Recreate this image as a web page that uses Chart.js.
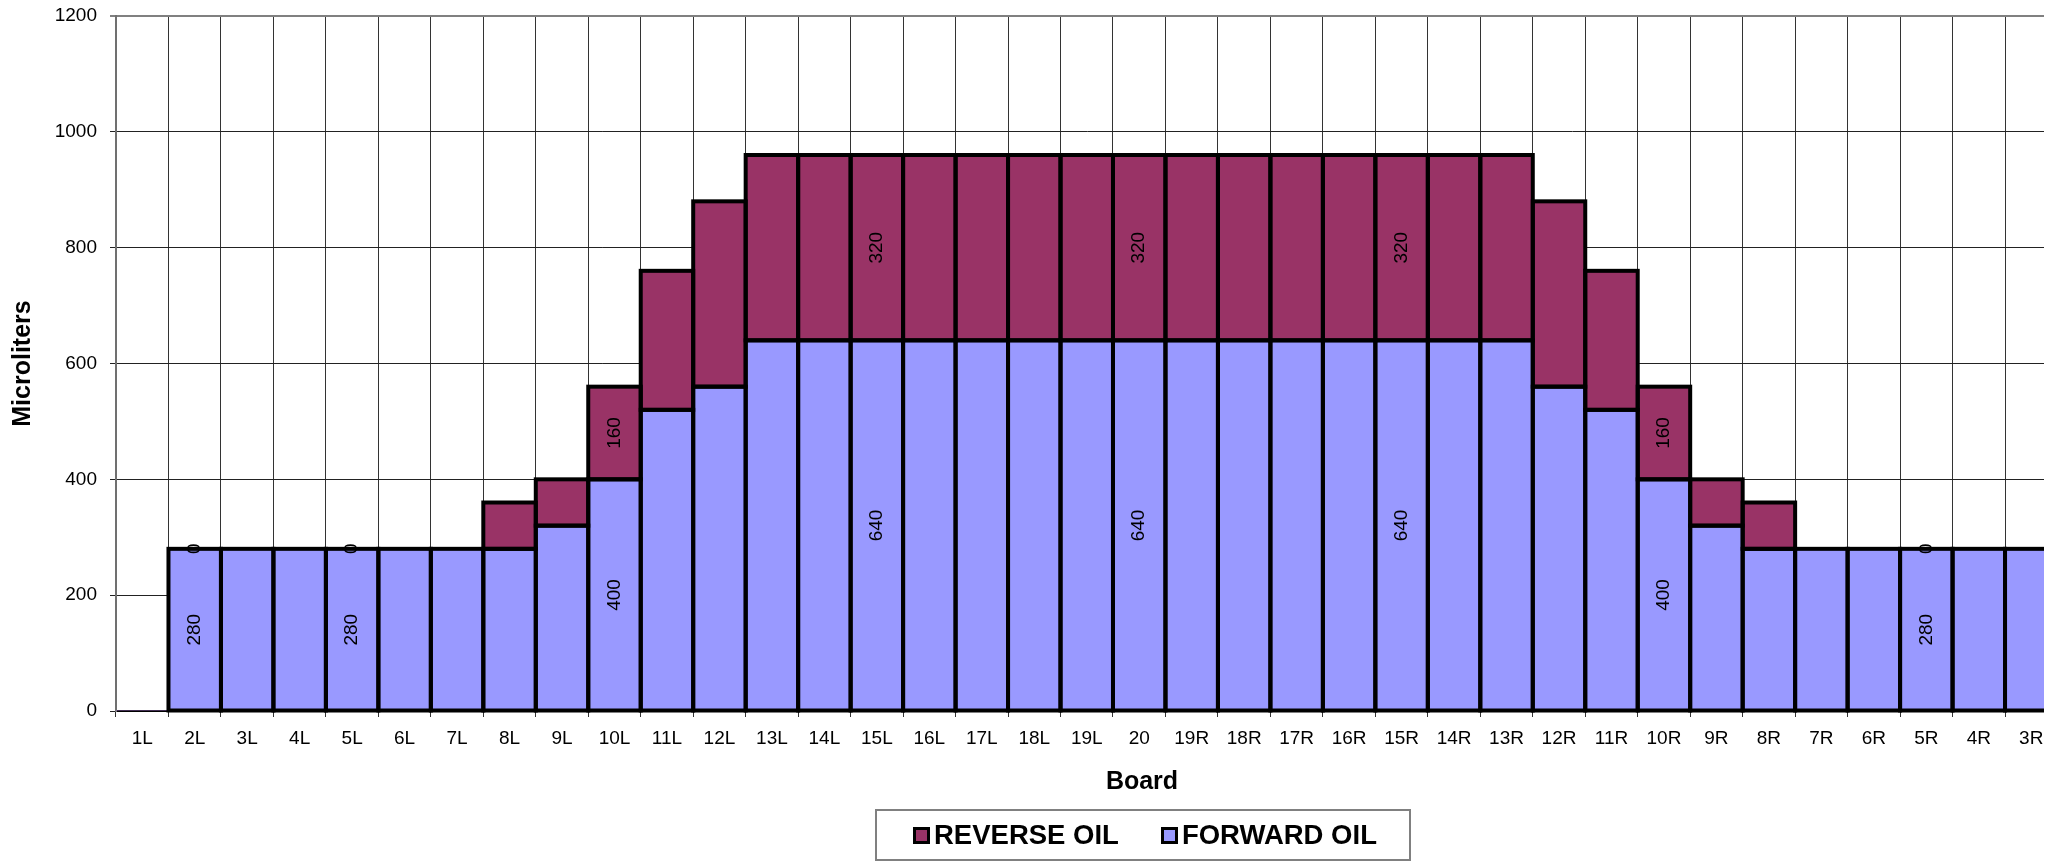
<!DOCTYPE html>
<html>
<head>
<meta charset="utf-8">
<script src="https://cdn.jsdelivr.net/npm/chart.js@4.4.0/dist/chart.umd.min.js"></script>
<style>
  body { margin: 0; background: #fff; font-family: "Liberation Sans", Arial, sans-serif; }
  #wrap { position: relative; width: 2066px; height: 864px; }
  #clip { position: absolute; left: 0; top: 0; width: 2044px; height: 864px; overflow: hidden; }
  #xtitle { position: absolute; left: 1142px; top: 766px; transform: translateX(-50%); font-weight: bold; font-size: 25px; }
  #legend { position: absolute; left: 875px; top: 809px; width: 536px; height: 52px; border: 2px solid #808080;
            box-sizing: border-box; display: flex; align-items: center; padding-left: 36px; font-weight: bold; font-size: 27.5px;
            white-space: nowrap; }
  .sw { width: 11px; height: 11px; border: 3px solid #000; margin-right: 4px; flex-shrink: 0; }
  .item { display: flex; align-items: center; margin-right: 42px; flex-shrink: 0; }
</style>
</head>
<body>
<div id="wrap">
  <div id="clip"><canvas id="c" width="2066" height="864"></canvas></div>
  <div id="xtitle">Board</div>
  <div id="legend"></div>
</div>
<script>
const boards = ['1L','2L','3L','4L','5L','6L','7L','8L','9L','10L','11L','12L','13L','14L','15L','16L','17L','18L','19L',
  '20','19R','18R','17R','16R','15R','14R','13R','12R','11R','10R','9R','8R','7R','6R','5R','4R','3R'];
const forwardOil = [0,280,280,280,280,280,280,280,320,400,520,560,640,640,640,640,640,640,640,
  640,640,640,640,640,640,640,640,560,520,400,320,280,280,280,280,280,280];
const reverseOil = [0,0,0,0,0,0,0,80,80,160,240,320,320,320,320,320,320,320,320,
  320,320,320,320,320,320,320,320,320,240,160,80,80,0,0,0,0,0];
// boards whose values are printed on the bars
const labelledBoards = ['2L','5L','10L','15L','20','15R','10R','5R'];
const yTicks = [0, 200, 400, 600, 800, 1000, 1200];

const FORWARD = '#9999FF', REVERSE = '#993366';

const barOutline = {
  id: 'barOutline',
  afterDatasetsDraw(chart) {
    const ctx = chart.ctx;
    ctx.save();
    ctx.strokeStyle = '#000';
    ctx.lineWidth = 4;
    chart.data.datasets.forEach((ds, i) => {
      chart.getDatasetMeta(i).data.forEach((bar, j) => {
        if (!ds.data[j]) return;
        const { x, y, base, width } = bar.getProps(['x', 'y', 'base', 'width'], true);
        ctx.strokeRect(x - width / 2, y, width, base - y);
      });
    });
    ctx.fillStyle = '#000';
    ctx.font = '19px "Liberation Sans", Arial, sans-serif';
    ctx.textAlign = 'center';
    ctx.textBaseline = 'middle';
    chart.data.datasets.forEach((ds, i) => {
      chart.getDatasetMeta(i).data.forEach((bar, j) => {
        if (!labelledBoards.includes(boards[j])) return;
        const { x, y, base } = bar.getProps(['x', 'y', 'base'], true);
        ctx.save();
        ctx.translate(x, (y + base) / 2);
        ctx.rotate(-Math.PI / 2);
        ctx.fillText(String(ds.data[j]), 0, 0);
        ctx.restore();
      });
    });
    ctx.restore();
  }
};

new Chart(document.getElementById('c'), {
  type: 'bar',
  data: {
    labels: boards,
    datasets: [
      { label: 'FORWARD OIL', data: forwardOil, backgroundColor: FORWARD, borderWidth: 0 },
      { label: 'REVERSE OIL', data: reverseOil, backgroundColor: REVERSE, borderWidth: 0 }
    ]
  },
  options: {
    responsive: false,
    animation: false,
    barPercentage: 1,
    categoryPercentage: 1,
    layout: { padding: { left: 0, top: 16, right: 8.5, bottom: 0 } },
    plugins: { legend: { display: false }, tooltip: { enabled: false } },
    scales: {
      x: {
        stacked: true,
        afterFit(scale) { scale.height = 153; },
        grid: { offset: true, color: '#333', lineWidth: 1, tickLength: 6 },
        border: { color: '#000', width: 2 },
        ticks: { color: '#000', padding: 10, maxRotation: 0, autoSkip: false,
                 font: { family: '"Liberation Sans", Arial, sans-serif', size: 19 } }
      },
      y: {
        stacked: true,
        min: 0, max: 1200,
        afterFit(scale) { scale.width = 116; scale.paddingTop = 0; scale.paddingBottom = 0; },
        afterBuildTicks(scale) { scale.ticks = yTicks.map(v => ({ value: v })); },
        grid: {
          color: ctx => ctx.tick && ctx.tick.value === 1200 ? '#808080' : '#222',
          lineWidth: ctx => ctx.tick && ctx.tick.value === 1200 ? 2 : 1,
          tickLength: 6
        },
        border: { color: '#707070', width: 2 },
        ticks: { color: '#000', padding: 13, callback: v => String(v),
                 font: { family: '"Liberation Sans", Arial, sans-serif', size: 19 } },
        title: { display: true, text: 'Microliters', color: '#000', padding: { top: 8, bottom: 0 },
                 font: { family: '"Liberation Sans", Arial, sans-serif', size: 25, weight: 'bold' } }
      }
    }
  },
  plugins: [barOutline]
});

const legend = document.getElementById('legend');
[['REVERSE OIL', REVERSE], ['FORWARD OIL', FORWARD]].forEach(([name, col]) => {
  const item = document.createElement('div');
  item.className = 'item';
  const sw = document.createElement('div');
  sw.className = 'sw';
  sw.style.background = col;
  item.appendChild(sw);
  item.appendChild(document.createTextNode(name));
  legend.appendChild(item);
});
</script>
</body>
</html>
